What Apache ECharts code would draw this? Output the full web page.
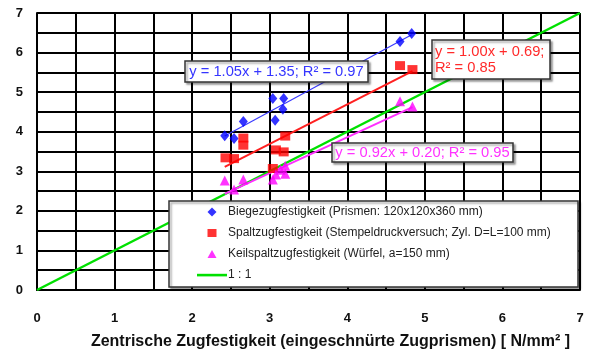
<!DOCTYPE html>
<html><head><meta charset="utf-8">
<script src="https://cdn.jsdelivr.net/npm/echarts@6/dist/echarts.min.js"></script>
<style>html,body{margin:0;padding:0;background:#fff}#c{width:590px;height:355px}</style>
</head><body><div id="c"></div>
<script>
const seriesNames = ['Biegezugfestigkeit (Prismen: 120x120x360 mm)','Spaltzugfestigkeit (Stempeldruckversuch; Zyl. D=L=100 mm)','Keilspaltzugfestigkeit (Würfel, a=150 mm)','1 : 1'];
const biege = [[2.42,3.90],[2.54,3.83],[2.66,4.26],[3.04,4.84],[3.18,4.84],[3.17,4.57],[3.07,4.29],[4.68,6.28],[4.83,6.48]];
const spalt = [[2.43,3.34],[2.54,3.32],[2.66,3.84],[2.66,3.66],[3.20,3.89],[3.08,3.54],[3.18,3.49],[3.04,3.07],[4.68,5.67],[4.84,5.57]];
const keil = [[2.42,2.77],[2.54,2.54],[2.66,2.79],[3.04,2.79],[3.08,2.92],[3.14,3.04],[3.20,3.14],[3.20,2.94],[4.68,4.77],[4.84,4.64]];
const biegeFit = [[2.42,3.89],[4.83,6.45]];
const spaltFit = [[2.42,3.11],[4.84,5.53]];
const keilFit = [[2.42,2.43],[4.84,4.62]];
const oneToOne = [[0,0],[7,7]];
const fitTexts = ['y = 1.05x + 1.35; R² = 0.97','y = 1.00x + 0.69;\nR² = 0.85','y = 0.92x + 0.20; R² = 0.95'];
const xTitle = 'Zentrische Zugfestigkeit (eingeschnürte Zugprismen) [ N/mm² ]';

const chart = echarts.init(document.getElementById('c'));
const axisCommon = {
  type:'value', min:0, max:7, interval:1,
  axisLine:{show:true,lineStyle:{color:'#000',width:2}},
  axisTick:{show:false},
  minorTick:{show:false,splitNumber:2},
  splitLine:{show:true,lineStyle:{color:'#000',width:2}},
  minorSplitLine:{show:true,lineStyle:{color:'#000',width:2}},
  axisLabel:{color:'#111',fontFamily:'Arial, Liberation Sans',fontWeight:'bold',fontSize:13}
};
const boxStyle = {fill:'#fff',stroke:'#333',lineWidth:1.5,shadowBlur:2,shadowOffsetX:2,shadowOffsetY:2,shadowColor:'rgba(0,0,0,0.35)'};
const txtFont = {fontFamily:'Arial, Liberation Sans',fontSize:14.7};
const iconDiamond = 'path://M0,0M30,10M15,0.5L19.5,5L15,9.5L10.5,5Z';
const iconSquare = 'path://M0,0M30,10M10.5,1L19.5,1L19.5,9L10.5,9Z';
const iconTri = 'path://M0,0M30,10M15,1L19.5,9L10.5,9Z';
const iconLine = 'path://M0,0M30,10M0,3.8L30,3.8L30,6.4L0,6.4Z';
chart.setOption({
  animation:false,
  grid:{left:37,right:10,top:13,bottom:61},
  xAxis:Object.assign({},axisCommon,{
    axisLabel:Object.assign({},axisCommon.axisLabel,{margin:22}),
    name:xTitle,nameLocation:'middle',nameGap:44,
    nameTextStyle:{color:'#111',fontFamily:'Arial, Liberation Sans',fontWeight:'bold',fontSize:16,padding:[0,0,0,44]}
  }),
  yAxis:Object.assign({},axisCommon,{axisLabel:Object.assign({},axisCommon.axisLabel,{margin:14})}),
  legend:{
    orient:'vertical',left:197,top:206,padding:0,itemGap:9,itemWidth:30,itemHeight:10,z:20,
    data:[
      {name:seriesNames[0],icon:iconDiamond,itemStyle:{color:'#0000ff'}},
      {name:seriesNames[1],icon:iconSquare,itemStyle:{color:'#ff0000'}},
      {name:seriesNames[2],icon:iconTri,itemStyle:{color:'#ff00ff'}},
      {name:seriesNames[3],icon:iconLine,itemStyle:{color:'#00e000'}}],
    textStyle:{color:'#222',fontFamily:'Arial, Liberation Sans',fontSize:12,padding:[0,0,0,-4]}
  },
  graphic:[
    {type:'rect',z:10,shape:{x:169,y:201,width:409,height:86},style:boxStyle},
    {type:'rect',z:10,shape:{x:185,y:61,width:183,height:21},style:boxStyle},
    {type:'text',z:11,style:Object.assign({x:276.5,y:71.5,text:fitTexts[0],fill:'#3535ff',align:'center',verticalAlign:'middle'},txtFont)},
    {type:'rect',z:10,shape:{x:432,y:40,width:118,height:39},style:boxStyle},
    {type:'text',z:11,style:Object.assign({x:435,y:59.5,text:fitTexts[1],fill:'#ff2a2a',align:'left',verticalAlign:'middle',lineHeight:16},txtFont)},
    {type:'rect',z:10,shape:{x:332,y:143,width:181,height:19},style:boxStyle},
    {type:'text',z:11,style:Object.assign({x:422.5,y:152.5,text:fitTexts[2],fill:'#ff33ff',align:'center',verticalAlign:'middle'},txtFont)}
  ],
  series:[
    {type:'line',data:oneToOne,symbol:'none',lineStyle:{color:'#00e000',width:2.5},name:seriesNames[3],z:3,silent:true},
    {type:'line',data:biegeFit,symbol:'none',lineStyle:{color:'#3a3aff',width:1.2},z:3},
    {type:'line',data:spaltFit,symbol:'none',lineStyle:{color:'#ff2020',width:2},z:3},
    {type:'line',data:keilFit,symbol:'none',lineStyle:{color:'#ff30ff',width:2},z:3},
    {type:'scatter',name:seriesNames[0],data:biege,symbol:'diamond',symbolSize:[9,11],itemStyle:{color:'#0000ff'},z:4},
    {type:'scatter',name:seriesNames[1],data:spalt,symbol:'rect',symbolSize:[10,9],itemStyle:{color:'#ff0000'},z:4},
    {type:'scatter',name:seriesNames[2],data:keil,symbol:'triangle',symbolSize:[10,10],itemStyle:{color:'#ff00ff'},z:4}
  ]
});
</script></body></html>
